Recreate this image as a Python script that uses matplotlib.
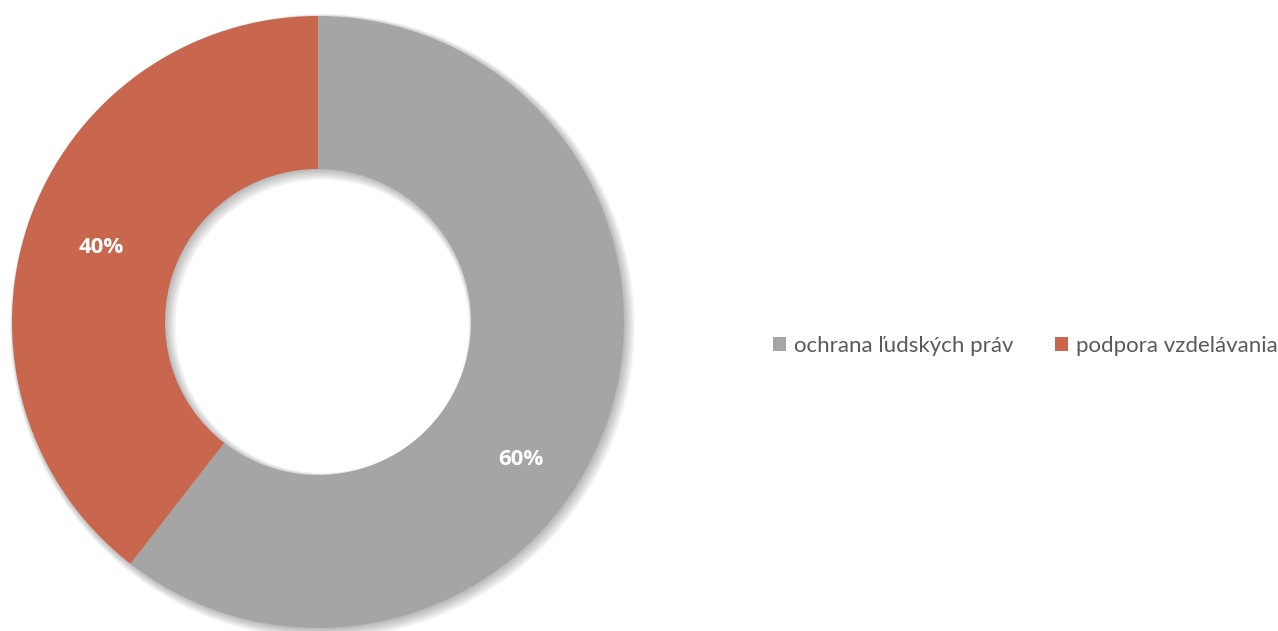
import matplotlib
matplotlib.use("Agg")
import matplotlib.pyplot as plt
from matplotlib.patches import Wedge, Patch
import numpy as np

categories = ["ochrana ľudských práv", "podpora vzdelávania"]
values = [60.5, 39.5]
colors = ["#A5A5A5", "#C8674E"]

W, H = 1278, 631
fig = plt.figure(figsize=(W / 100, H / 100), dpi=100)
fig.patch.set_facecolor("white")

# pie axes in pixel coords: center (318, 322), radius ~306
cx, cy, R = 318, 322, 306
ax = fig.add_axes([(cx - R) / W, (H - cy - R) / H, 2 * R / W, 2 * R / H])
ax.set_xlim(-1, 1)
ax.set_ylim(-1, 1)
ax.set_aspect("equal")
ax.axis("off")

# soft shadow
for i in range(8):
    off = 0.004 + i * 0.0015
    sh = Wedge((off, -off), 1.0 + i * 0.003, 0, 360, width=0.5 + i * 0.006,
               facecolor="black", alpha=0.035, edgecolor="none", zorder=0,
               clip_on=False)
    ax.add_patch(sh)

wedges, texts, autotexts = ax.pie(
    values, colors=colors, startangle=90, counterclock=False, radius=1.0,
    wedgeprops=dict(width=0.5, edgecolor="none"),
    autopct=lambda p: f"{p:.0f}%", pctdistance=0.75,
    textprops=dict(color="white", fontsize=16, fontweight="bold",
                   family=["Open Sans", "DejaVu Sans"]),
)
for w in wedges:
    w.set_zorder(2)
    w.set_clip_on(False)
for t in autotexts:
    t.set_zorder(3)
# Excel places the 60% label lower along the ring
ang = np.deg2rad(-34.1)
autotexts[0].set_position((0.80 * np.cos(ang), 0.80 * np.sin(ang)))
ax.set_xlim(-1, 1)
ax.set_ylim(-1, 1)

handles = [Patch(facecolor=c, edgecolor="none") for c in colors]
fig.legend(handles, categories, loc="center left", bbox_to_anchor=(753 / W, 1 - 346 / H),
           ncol=2, frameon=False, prop=dict(family=["Lato", "DejaVu Sans"], size=16),
           handlelength=0.6, handleheight=0.6, handletextpad=0.35, columnspacing=1.85,
           labelcolor="#595959")

fig.savefig("out.png", dpi=100, facecolor="white")
